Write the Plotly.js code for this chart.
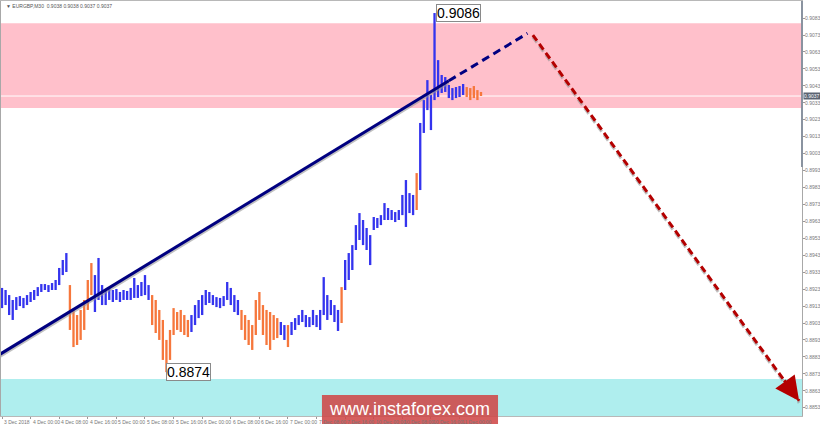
<!DOCTYPE html>
<html><head><meta charset="utf-8">
<script src="https://cdn.plot.ly/plotly-3.0.1.min.js"></script>
<style>html,body{margin:0;padding:0;background:#fff;}#chart{width:820px;height:426px;}</style>
</head><body><div id="chart"></div>
<script>
// hourly bar highs / lows (EURGBP)
const barHigh = [
0.89237,0.89225,0.89195,0.89166,0.89183,0.89189,0.89178,0.89195,0.89213,0.89225,
0.89242,0.89260,0.89260,0.89254,0.89266,0.89284,0.89355,0.89402,0.89443,0.89254,
0.89107,0.89077,0.89107,0.89166,0.89284,0.89384,0.89313,0.89414,0.89254,0.89225,
0.89237,0.89225,0.89231,0.89213,0.89225,0.89219,0.89237,0.89296,0.89254,0.89272,
0.89313,0.89254,0.89195,0.89166,0.89107,0.89048,0.88930,0.88989,0.89118,0.89095,
0.89107,0.89077,0.89048,0.89077,0.89136,0.89166,0.89195,0.89225,0.89213,0.89195,
0.89183,0.89178,0.89189,0.89272,0.89237,0.89195,0.89166,0.89107,0.89077,0.89048,
0.89018,0.89166,0.89213,0.89136,0.89107,0.89095,0.89077,0.89059,0.89036,0.89018,
0.89018,0.89036,0.89059,0.89077,0.89107,0.89077,0.89065,0.89107,0.89077,0.89107,
0.89301,0.89195,0.89166,0.89136,0.89107,0.89242,0.89402,0.89443,0.89490,0.89608,
0.89679,0.89638,0.89591,0.89549,0.89656,0.89650,0.89667,0.89738,0.89709,0.89697,
0.89685,0.89697,0.89786,0.89874,0.89797,0.89786,0.89915,0.90211,0.90346,0.90464,
0.90376,0.90860,0.90582,0.90494,0.90482,0.90435,0.90417,0.90423,0.90429,0.90441,
0.90423,0.90417,0.90429,0.90405,0.90394];
const barLow = [
0.89118,0.89136,0.89077,0.89048,0.89107,0.89130,0.89118,0.89136,0.89154,0.89166,
0.89189,0.89213,0.89225,0.89213,0.89225,0.89225,0.89254,0.89313,0.89331,0.88989,
0.88888,0.88900,0.88930,0.88989,0.89107,0.89195,0.89095,0.89166,0.89136,0.89136,
0.89166,0.89154,0.89166,0.89154,0.89166,0.89166,0.89166,0.89178,0.89178,0.89189,
0.89195,0.89166,0.89018,0.88971,0.88930,0.88812,0.88740,0.88812,0.88959,0.88989,
0.88977,0.88959,0.88947,0.88977,0.89018,0.89059,0.89077,0.89136,0.89148,0.89136,
0.89124,0.89118,0.89130,0.89166,0.89136,0.89095,0.89077,0.88989,0.88930,0.88900,
0.88871,0.88959,0.89048,0.88959,0.88900,0.88871,0.88930,0.88941,0.88959,0.88930,
0.88888,0.88959,0.88989,0.89018,0.89036,0.89006,0.89006,0.89018,0.89006,0.88989,
0.89077,0.89048,0.89077,0.89036,0.88983,0.89030,0.89225,0.89284,0.89343,0.89461,
0.89520,0.89490,0.89461,0.89372,0.89579,0.89591,0.89608,0.89638,0.89638,0.89638,
0.89626,0.89638,0.89667,0.89597,0.89679,0.89667,0.89697,0.89815,0.90152,0.90287,
0.90169,0.90346,0.90364,0.90388,0.90394,0.90358,0.90346,0.90358,0.90364,0.90376,
0.90364,0.90346,0.90358,0.90346,0.90370];
// wave segments: number of bars in each, alternating up-wave (blue) / correction (orange)
const waveSegmentBars = [19,7,16,11,14,11,2,1,14,1,20,1,13,5];
const waveSegmentKind = ["up","down","up","down","up","down","up","down","up","down","up","down","up","down"];

const xTickVals = [0,8,16,24,32,40,48,56,64,72,80,88,96,104,112,120,128];
const xTickText = ["3 Dec 2018","4 Dec 00:00","4 Dec 08:00","4 Dec 16:00","5 Dec 00:00","5 Dec 08:00","5 Dec 16:00","6 Dec 00:00","6 Dec 08:00","6 Dec 16:00","7 Dec 00:00","7 Dec 08:00","7 Dec 16:00","10 Dec 00:00","10 Dec 08:00","10 Dec 16:00","11 Dec 00:00"];
const yTickVals = [0.8853,0.8863,0.8873,0.8883,0.8893,0.8903,0.8913,0.8923,0.8933,0.8943,0.8953,0.8963,0.8973,0.8983,0.8993,0.9003,0.9013,0.9023,0.9033,0.9043,0.9053,0.9063,0.9073,0.9083];

const resistanceZone = [0.9030, 0.9080];
const supportZone = [0.8848, 0.8870];
const lastPrice = 0.9037;
const highLabel = {x: 121, y: 0.9086, text: "0.9086"};
const lowLabel = {x: 46, y: 0.8874, text: "0.8874"};
// wave lines
const trendX = [-1, 125, 147];
const trendY = [0.8884, 0.9046, 0.9074];
const forecastX = [148.5, 223];
const forecastY = [0.9073, 0.8857];

const COL = {up: "#3434ee", down: "#f6773c"};
const hours = barHigh.map((_, i) => i);
const kinds = [];
waveSegmentBars.forEach((n, s) => { for (let k = 0; k < n; k++) kinds.push(waveSegmentKind[s]); });

const shadowDy = -0.00012;
const traces = [
  {type: "bar", x: hours, base: barLow, y: barHigh.map((h, i) => h - barLow[i]), width: 0.65,
   marker: {color: kinds.map(k => COL[k]), line: {width: 0}}, hoverinfo: "skip", showlegend: false},
  // shadows
  {type: "scatter", mode: "lines", x: trendX.slice(0, 2), y: trendY.slice(0, 2).map(v => v + shadowDy),
   line: {color: "rgba(150,150,150,0.6)", width: 3}, hoverinfo: "skip", showlegend: false},
  {type: "scatter", mode: "lines", x: forecastX, y: forecastY.map(v => v + shadowDy),
   line: {color: "rgba(150,150,150,0.6)", width: 3, dash: "7px,4px"}, hoverinfo: "skip", showlegend: false},
  {type: "scatter", mode: "lines", x: trendX.slice(0, 2), y: trendY.slice(0, 2),
   line: {color: "#000080", width: 3}, hoverinfo: "skip", showlegend: false},
  {type: "scatter", mode: "lines", x: trendX.slice(1), y: trendY.slice(1),
   line: {color: "#000080", width: 3, dash: "8px,5px"}, hoverinfo: "skip", showlegend: false},
  {type: "scatter", mode: "lines", x: forecastX, y: forecastY,
   line: {color: "#b40000", width: 3, dash: "7px,4px"}, hoverinfo: "skip", showlegend: false}
];

function arrowHead(xs, ys, color, size) {
  const n = xs.length;
  const f = 0.06;
  return {x: xs[n-1], y: ys[n-1], xref: "x", yref: "y", axref: "x", ayref: "y",
    ax: xs[n-1] - (xs[n-1] - xs[n-2]) * f, ay: ys[n-1] - (ys[n-1] - ys[n-2]) * f,
    showarrow: true, arrowhead: 2, arrowsize: size, arrowwidth: 3, arrowcolor: color, text: ""};
}

const tickFont = {family: "Liberation Sans, Arial, sans-serif", size: 5, color: "#777"};
const xLabelAnnots = xTickVals.map((v, i) => ({
  x: v, y: 0, xref: "x", yref: "paper", text: xTickText[i], showarrow: false,
  xanchor: "left", yanchor: "top", xshift: 0, yshift: -1, font: tickFont
}));

const layout = {
  width: 820, height: 426,
  margin: {l: 1, r: 18, t: 1, b: 10},
  paper_bgcolor: "#ffffff", plot_bgcolor: "#ffffff",
  showlegend: false,
  xaxis: {range: [-0.28, 223.8], showgrid: false, zeroline: false,
    tickvals: xTickVals, showticklabels: false, ticks: "outside", ticklen: 2, tickcolor: "#999",
    showline: true, linecolor: "#b8b8b8", linewidth: 1, mirror: true, fixedrange: true},
  yaxis: {range: [0.88481, 0.90931], side: "right", showgrid: false, zeroline: false,
    tickvals: yTickVals, ticktext: yTickVals.map(v => v.toFixed(4)), ticks: "outside", ticklen: 2, tickcolor: "#999",
    ticklabelstandoff: -1,
    tickfont: tickFont,
    showline: true, linecolor: "#a8a8a8", linewidth: 1, mirror: true, fixedrange: true},
  shapes: [
    {type: "rect", xref: "paper", yref: "y", x0: 0, x1: 1, y0: resistanceZone[0], y1: resistanceZone[1],
     fillcolor: "#ffc0cb", line: {width: 0}, layer: "below"},
    {type: "rect", xref: "paper", yref: "y", x0: 0, x1: 1, y0: supportZone[0], y1: supportZone[1],
     fillcolor: "#afeeee", line: {width: 0}, layer: "below"},
    {type: "line", xref: "paper", yref: "y", x0: 0, x1: 1, y0: lastPrice, y1: lastPrice,
     line: {color: "#ffffff", width: 1}, layer: "below"},
    {type: "line", xref: "paper", yref: "paper", x0: 1, x1: 1, y0: 0.6, y1: 1,
     line: {color: "#8a93a0", width: 2}, layer: "above"},
    {type: "rect", xref: "paper", yref: "paper", x0: 0.4007, x1: 0.6205, y0: -0.0193, y1: 0.0506,
     fillcolor: "rgba(207,72,72,0.88)", line: {width: 0}, layer: "above"}
  ],
  annotations: xLabelAnnots.concat([
    arrowHead(trendX, trendY, "#000080", 1.3),
    arrowHead(forecastX, forecastY, "#b40000", 1.6),
    {x: highLabel.x, y: highLabel.y, xref: "x", yref: "y", text: highLabel.text, showarrow: false,
     xanchor: "left", yanchor: "middle", xshift: 1, bgcolor: "#ffffff", bordercolor: "#8a8a8a", borderwidth: 1, borderpad: 0,
     font: {family: "Liberation Sans, Arial, sans-serif", size: 14, color: "#000"}},
    {x: lowLabel.x, y: lowLabel.y, xref: "x", yref: "y", text: lowLabel.text, showarrow: false,
     xanchor: "left", yanchor: "middle", xshift: 0, bgcolor: "#ffffff", bordercolor: "#8a8a8a", borderwidth: 1, borderpad: 0,
     font: {family: "Liberation Sans, Arial, sans-serif", size: 14, color: "#000"}},
    {x: 1, y: lastPrice, xref: "paper", yref: "y", text: lastPrice.toFixed(4), showarrow: false,
     xanchor: "left", yanchor: "middle", xshift: 1, bgcolor: "#5b6473", borderpad: 0,
     font: {family: "Liberation Sans, Arial, sans-serif", size: 5, color: "#ffffff"}},
    {x: 0.004, y: 0.999, xref: "paper", yref: "paper", xanchor: "left", yanchor: "top", showarrow: false,
     text: "▼ EURGBP,M30  0.9038 0.9038 0.9037 0.9037",
     font: {family: "Liberation Sans, Arial, sans-serif", size: 5, color: "#555"}},
    {x: 0.5106, y: 0.0157, xref: "paper", yref: "paper", xanchor: "center", yanchor: "middle", showarrow: false,
     text: "www.instaforex.com", font: {family: "Liberation Sans, Arial, sans-serif", size: 18, color: "#ffffff"}}
  ])
};

Plotly.newPlot("chart", traces, layout, {displayModeBar: false, staticPlot: true});
</script>
</body></html>
